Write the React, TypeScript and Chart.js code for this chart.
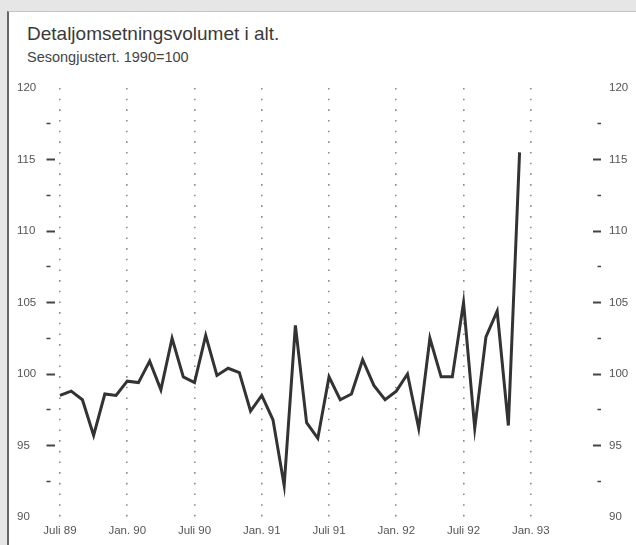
import React, { useEffect, useRef } from "react";
import { Chart, registerables } from "chart.js";

Chart.register(...registerables);

const titleText = "Detaljomsetningsvolumet i alt.";
const subtitleText = "Sesongjustert. 1990=100";

// Monthly values, Juli 1989 .. Des. 1992 (index 0 = Juli 89)
const volumeValues: number[] = [
  98.5, 98.8, 98.2, 95.7, 98.6, 98.5,
  99.5, 99.4, 100.9, 98.9, 102.5, 99.8,
  99.4, 102.7, 99.9, 100.4, 100.1, 97.4,
  98.5, 96.8, 92.2, 103.4, 96.6, 95.5,
  99.8, 98.2, 98.6, 101.0, 99.2, 98.2,
  98.8, 100.0, 96.2, 102.5, 99.8, 99.8,
  105.0, 96.2, 102.6, 104.4, 96.4, 115.5,
];

const xTickPositions: number[] = [0, 6, 12, 18, 24, 30, 36, 42];
const xTickLabels: string[] = [
  "Juli 89", "Jan. 90", "Juli 90", "Jan. 91",
  "Juli 91", "Jan. 92", "Juli 92", "Jan. 93",
];

const yMin = 90;
const yMax = 120;
const yStep = 2.5;

const FONT = "'Liberation Sans', Arial, sans-serif";

export default function App() {
  const canvasRef = useRef<HTMLCanvasElement | null>(null);

  useEffect(() => {
    document.body.style.margin = "0";
    const canvas = canvasRef.current;
    if (!canvas) return;

    const tickColorFn = (ctx: any) => {
      const v = ctx.tick ? ctx.tick.value : 0;
      if (v === yMin || v === yMax) return "rgba(0,0,0,0)";
      return "#444";
    };
    const tickWidthFn = (ctx: any) => {
      const v = ctx.tick ? ctx.tick.value : 0;
      return v % 5 === 0 ? 2 : 1.5;
    };
    const yLabel = (v: any) => (Number(v) % 5 === 0 ? String(v) : "");

    const chart = new Chart(canvas, {
      type: "line",
      data: {
        datasets: [
          {
            data: volumeValues.map((v, i) => ({ x: i, y: v })),
            borderColor: "#333",
            borderWidth: 3,
            pointRadius: 0,
            tension: 0,
            borderJoinStyle: "miter",
            fill: false,
          },
        ],
      },
      options: {
        animation: false,
        responsive: false,
        maintainAspectRatio: false,
        layout: { padding: { left: 17, right: 0, top: 88, bottom: 0 } },
        plugins: {
          legend: { display: false },
          tooltip: { enabled: false },
          title: { display: false },
        },
        scales: {
          x: {
            type: "linear",
            min: -0.49,
            max: 47.55,
            afterBuildTicks: (scale: any) => {
              scale.ticks = xTickPositions.map((v) => ({ value: v }));
            },
            afterFit: (scale: any) => {
              scale.height = 28;
            },
            border: { display: false, dash: [1.6, 9.07] },
            grid: {
              drawTicks: false,
              color: "#8a8a8a",
              lineWidth: 1.6,
            },
            ticks: {
              autoSkip: false,
              maxRotation: 0,
              padding: 7,
              color: "#555",
              font: { family: FONT, size: 11.5 },
              callback: (v: any) => {
                const idx = xTickPositions.indexOf(Number(v));
                return idx >= 0 ? xTickLabels[idx] : "";
              },
            },
          },
          y: {
            type: "linear",
            position: "left",
            min: yMin,
            max: yMax,
            afterFit: (scale: any) => {
              scale.width = 37.5;
            },
            border: { display: false },
            grid: {
              drawOnChartArea: false,
              drawTicks: true,
              tickLength: 8,
              tickColor: tickColorFn,
              tickWidth: tickWidthFn,
              tickBorderDash: (ctx: any) =>
                ctx.tick && ctx.tick.value % 5 !== 0 ? [4, 30] : [],
            } as any,
            ticks: {
              stepSize: yStep,
              crossAlign: "far",
              padding: 8,
              color: "#555",
              font: { family: FONT, size: 11.5 },
              callback: yLabel,
            },
          },
          y2: {
            type: "linear",
            position: "right",
            min: yMin,
            max: yMax,
            afterFit: (scale: any) => {
              scale.width = 43;
            },
            border: { display: false },
            grid: {
              drawOnChartArea: false,
              drawTicks: true,
              tickLength: 8,
              tickColor: tickColorFn,
              tickWidth: tickWidthFn,
              tickBorderDash: (ctx: any) =>
                ctx.tick && ctx.tick.value % 5 !== 0 ? [0, 4.5, 4, 30] : [],
            } as any,
            ticks: {
              stepSize: yStep,
              padding: 8,
              color: "#555",
              font: { family: FONT, size: 11.5 },
              callback: yLabel,
            },
          },
        },
      } as any,
    });

    return () => {
      chart.destroy();
    };
  }, []);

  return (
    <div
      style={{
        position: "relative",
        width: 636,
        height: 545,
        background: "#e6e6e6",
        overflow: "hidden",
      }}
    >
      <div
        style={{
          position: "absolute",
          left: 7,
          top: 11,
          right: 0,
          bottom: 0,
          background: "#fff",
          borderLeft: "2px solid #666",
          borderTop: "1px solid #c4c4c4",
        }}
      />
      <div
        style={{
          position: "absolute",
          left: 27,
          top: 23,
          fontFamily: FONT,
          fontSize: 19,
          color: "#3a3a3a",
          whiteSpace: "nowrap",
          lineHeight: "22px",
        }}
      >
        {titleText}
      </div>
      <div
        style={{
          position: "absolute",
          left: 27,
          top: 49,
          fontFamily: FONT,
          fontSize: 14.5,
          color: "#444",
          whiteSpace: "nowrap",
          lineHeight: "17px",
        }}
      >
        {subtitleText}
      </div>
      <canvas
        ref={canvasRef}
        width={636}
        height={545}
        style={{ position: "absolute", left: 0, top: 0, width: 636, height: 545 }}
      />
    </div>
  );
}
